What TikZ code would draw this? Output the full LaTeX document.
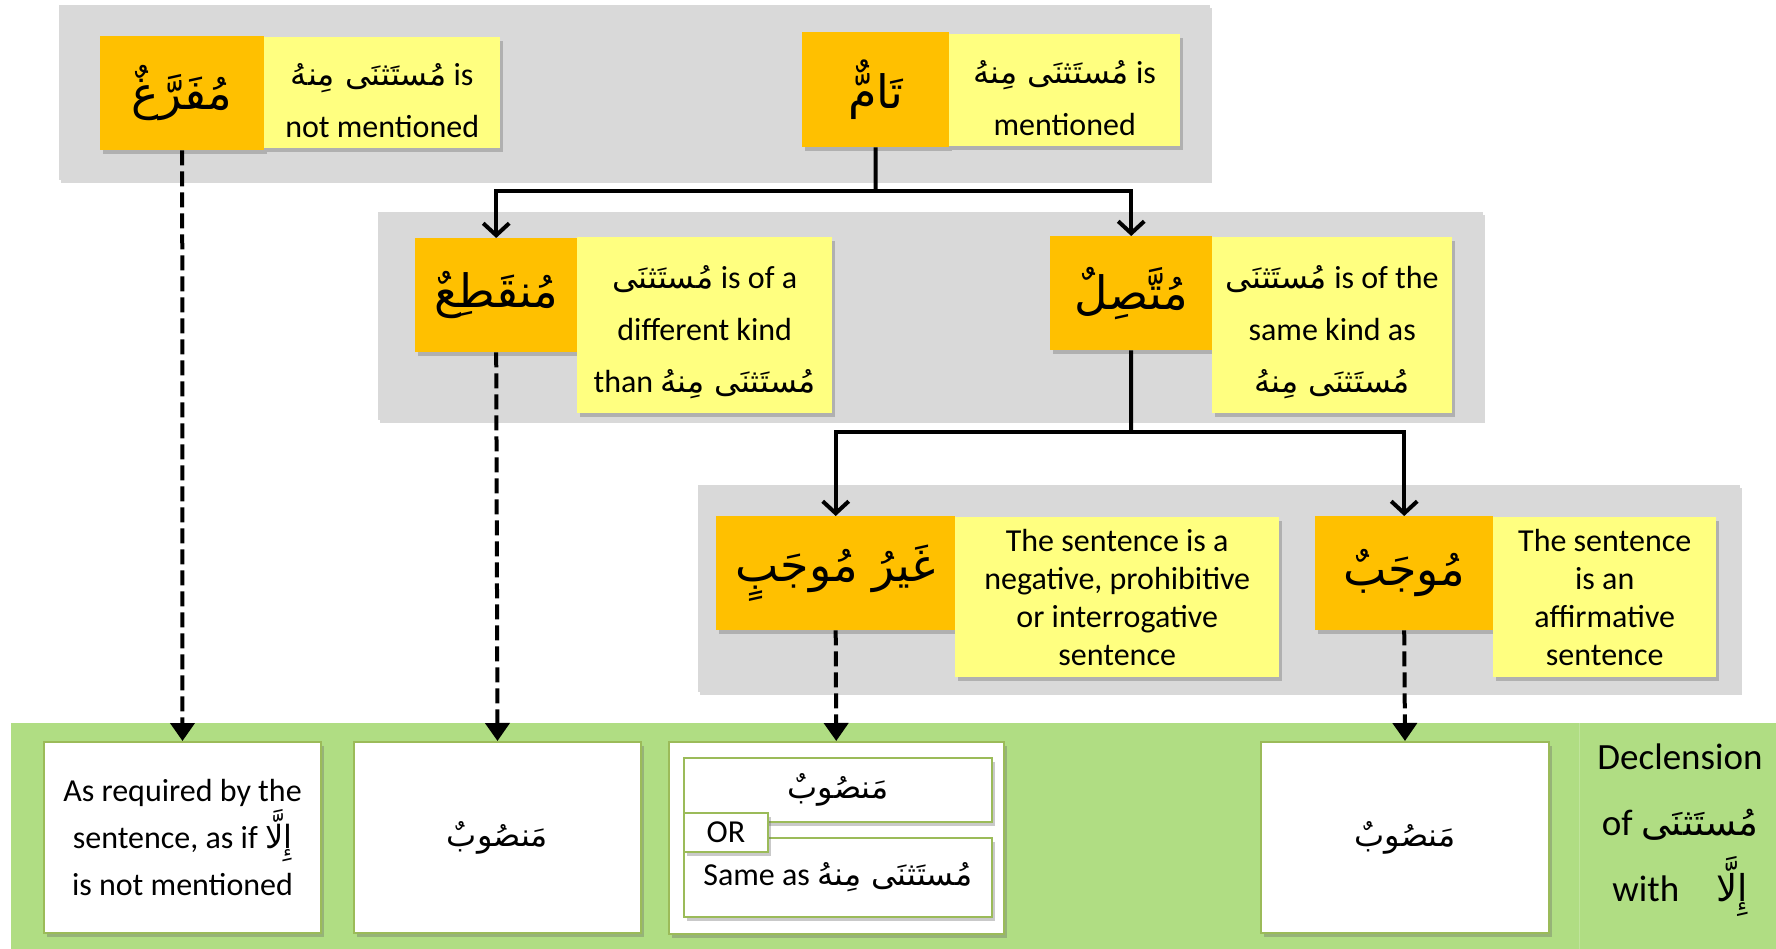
\documentclass[tikz,border=0pt]{standalone}
\usepackage{fontspec}
\setmainfont{Carlito}
\newfontfamily\arabicfont[Script=Arabic]{DejaVu Sans}
\TeXXeTstate=1
\usetikzlibrary{arrows.meta,shadows}
\newcommand{\ar}[1]{{\arabicfont\beginR #1\endR}}
\definecolor{bandgray}{RGB}{217,217,217}
\definecolor{ogold}{RGB}{255,192,0}
\definecolor{ylw}{RGB}{255,255,128}
\definecolor{bandgreen}{RGB}{176,221,131}
\definecolor{olive}{RGB}{155,187,89}
\begin{document}
\begin{tikzpicture}[x=1pt,y=-1pt,
  shad/.style={drop shadow={shadow xshift=3pt,shadow yshift=-4pt,opacity=.35,fill=black!60}},
  band/.style={fill=bandgray,drop shadow={shadow xshift=2pt,shadow yshift=-3pt,opacity=.25,fill=black!60}},
  obox/.style={fill=ogold,inner sep=0pt,anchor=north west,font=\fontsize{46}{54}\selectfont,shad},
  ybox/.style={fill=ylw,inner sep=0pt,anchor=north west,align=center,font=\fontsize{32}{52}\selectfont,shad},
  ytext/.style={inner sep=0pt,align=center,font=\fontsize{32}{52}\selectfont},
  wbox/.style={fill=white,draw=olive,line width=2pt,inner sep=0pt,anchor=north west,align=center,font=\fontsize{32}{47}\selectfont,shad},
  conn/.style={line width=4pt,-{Straight Barb[length=12pt,width=26pt]}},
  dconn/.style={line width=4pt,dash pattern=on 15pt off 6pt,-{Triangle[length=18pt,width=24pt]}}
]
\useasboundingbox (0,0) rectangle (1776,949);
% bands
\path[band] (59,5) rectangle (1210,180);
\path[band] (378,212) rectangle (1483,420);
\path[band] (698,485) rectangle (1740,692);
\fill[bandgreen] (11,723) rectangle (1776,949);
\draw[bandgreen!80!white,line width=1pt] (1579,723) -- (1579,949);
% row 1
\node[obox,minimum width=164pt,minimum height=114pt] (mufarragh) at (100,36) {\ar{مُفَرَّغٌ}};
\node[ybox,minimum width=236pt,minimum height=111pt] (y1) at (264,37) {};
\node[ytext] (y1t) at ([yshift=-8pt]y1.center) {\ar{مُستَثنَى مِنهُ} is\\not mentioned};
\node[obox,minimum width=147pt,minimum height=115pt] (taam) at (802,32) {\ar{تَامٌّ}};
\node[ybox,minimum width=231pt,minimum height=112pt] (y2) at (949,34) {};
\node[ytext] (y2t) at ([yshift=-8pt]y2.center) {\ar{مُستَثنَى مِنهُ} is\\mentioned};
% row 2
\node[obox,minimum width=162pt,minimum height=114pt] (munqati) at (415,238) {\ar{مُنقَطِعٌ}};
\node[ybox,minimum width=255pt,minimum height=176pt] (y3) at (577,237) {};
\node[ytext] (y3t) at ([yshift=-7pt]y3.center) {\ar{مُستَثنَى} is of a\\different kind\\than \ar{مُستَثنَى مِنهُ}};
\node[obox,minimum width=162pt,minimum height=114pt] (muttasil) at (1050,236) {\ar{مُتَّصِلٌ}};
\node[ybox,minimum width=240pt,minimum height=176pt] (y4) at (1212,237) {};
\node[ytext] (y4t) at ([yshift=-7pt]y4.center) {\ar{مُستَثنَى} is of the\\same kind as\\\ar{مُستَثنَى مِنهُ}};
% row 3
\node[obox,minimum width=239pt,minimum height=114pt] (ghayr) at (716,516) {\ar{غَيرُ مُوجَبٍ}};
\node[ybox,minimum width=324pt,minimum height=160pt,font=\fontsize{32}{38}\selectfont] (y5) at (955,517) {The sentence is a\\negative, prohibitive\\or interrogative\\sentence};
\node[obox,minimum width=178pt,minimum height=114pt] (mujab) at (1315,516) {\ar{مُوجَبٌ}};
\node[ybox,minimum width=223pt,minimum height=160pt,font=\fontsize{32}{38}\selectfont] (y6) at (1493,517) {The sentence\\is an\\affirmative\\sentence};
% bottom boxes
\node[wbox,minimum width=277pt,minimum height=191pt] (w1) at (43,741) {As required by the\\sentence, as if \ar{إِلَّا}\\is not mentioned};
\node[wbox,minimum width=287pt,minimum height=191pt] (w2) at (353,741) {\ar{مَنصُوبٌ}};
\node[wbox,line width=1.5pt,minimum width=335pt,minimum height=192pt] (w3) at (668,741) {};
\node[wbox,minimum width=308pt,minimum height=64pt] (w3a) at (683,757) {\ar{مَنصُوبٌ}};
\node[wbox,minimum width=308pt,minimum height=79pt] (w3b) at (683,837) {Same as \ar{مُستَثنَى مِنهُ}};
\node[wbox,minimum width=84pt,minimum height=39pt] (or) at (683,812) {OR};
\node[wbox,minimum width=288pt,minimum height=191pt] (w4) at (1260,741) {\ar{مَنصُوبٌ}};
\node[align=center,font=\fontsize{37}{66}\selectfont] (decl) at (1680,830) {Declension\\of\ \ar{مُستَثنَى}\\with\quad\ar{إِلَّا}};
% connectors
\coordinate (j1) at (875.5,191);
\coordinate (j2) at (1131,432);
\draw[line width=4pt] (taam.south) -- (j1);
\draw[conn] (j1) -| (munqati.north);
\draw[conn] (j1) -| (muttasil.north);
\draw[line width=4pt] (muttasil.south) -- (j2);
\draw[conn] (j2) -| (ghayr.north);
\draw[conn] (j2) -| (mujab.north);
\draw[dconn] (mufarragh.south) -- (w1.north);
\draw[dconn] (munqati.south) -- (w2.north);
\draw[dconn] (ghayr.south) -- (w3.north);
\draw[dconn] (mujab.south) -- (w4.north);
\end{tikzpicture}
\end{document}
